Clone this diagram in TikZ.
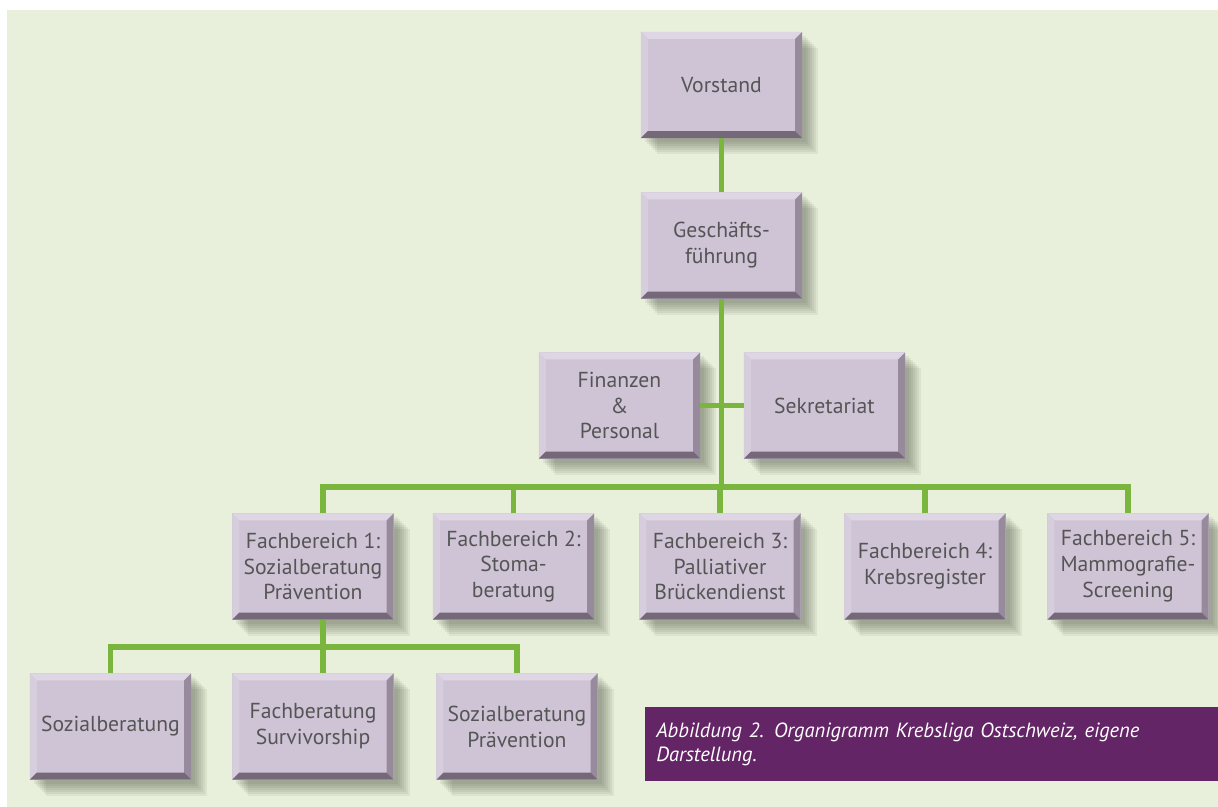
\documentclass[tikz,border=0pt]{standalone}
\usepackage{fontspec}
\setmainfont{PT Sans}
\usetikzlibrary{positioning,shadows}

\definecolor{bggreen}{HTML}{E8EFDB}
\definecolor{boxfill}{HTML}{CFC4D6}
\definecolor{bevtop}{HTML}{DED6E4}
\definecolor{bevleft}{HTML}{D7CEDD}
\definecolor{bevright}{HTML}{978A9C}
\definecolor{bevbottom}{HTML}{746879}
\definecolor{boxtext}{HTML}{555555}
\definecolor{linegreen}{HTML}{7AB63E}
\definecolor{captionpurple}{HTML}{642566}
\definecolor{shadowgray}{HTML}{3A4030}

\newcommand{\bevw}{0.17cm}

\begin{document}
\begin{tikzpicture}[x=0.025cm,y=-0.025cm,
		softshade/.style={general shadow={shadow xshift=#1,shadow yshift=-#1,fill=shadowgray,fill opacity=0.07}},
		orgbox/.style={rectangle,fill=boxfill,text=boxtext,align=center,
			minimum width=4.025cm,minimum height=2.65cm,inner sep=0pt,outer sep=0pt,
			font=\fontsize{15.4}{18.4}\selectfont,
			softshade=0.40cm,softshade=0.35cm,softshade=0.30cm,softshade=0.25cm,
			softshade=0.20cm,softshade=0.15cm,softshade=0.10cm,
			path picture={
				\fill[bevtop] (path picture bounding box.north west) -- (path picture bounding box.north east)
				-- ([shift={(-\bevw,-\bevw)}]path picture bounding box.north east)
				-- ([shift={(\bevw,-\bevw)}]path picture bounding box.north west) -- cycle;
				\fill[bevleft] (path picture bounding box.north west) -- ([shift={(\bevw,-\bevw)}]path picture bounding box.north west)
				-- ([shift={(\bevw,\bevw)}]path picture bounding box.south west)
				-- (path picture bounding box.south west) -- cycle;
				\fill[bevright] (path picture bounding box.north east) -- (path picture bounding box.south east)
				-- ([shift={(-\bevw,\bevw)}]path picture bounding box.south east)
				-- ([shift={(-\bevw,-\bevw)}]path picture bounding box.north east) -- cycle;
				\fill[bevbottom] (path picture bounding box.south west) -- (path picture bounding box.south east)
				-- ([shift={(-\bevw,\bevw)}]path picture bounding box.south east)
				-- ([shift={(\bevw,\bevw)}]path picture bounding box.south west) -- cycle;
			}},
		conn/.style={draw=linegreen,line width=3.6pt},
		captionbox/.style={rectangle,fill=captionpurple,text=white,align=left,anchor=north west,
			minimum width=14.325cm,minimum height=1.85cm,text width=13.775cm,
			inner xsep=0.275cm,inner ysep=0pt,font=\itshape\fontsize{14.6}{17}\selectfont}
	]
	
	% Background
	\useasboundingbox (0,0) rectangle (1218,807);
	\fill[white] (0,0) rectangle (1218,807);
	\fill[bggreen] (7,10) rectangle (1218,807);
	
	% Boxes
	\node[orgbox] (vorstand) at (721.5,85) {Vorstand};
	\node[orgbox] (gf) at (721.5,245.5) {Geschäfts-\\führung};
	\node[orgbox] (finanzen) at (619.5,405.5) {Finanzen\\\&\\Personal};
	\node[orgbox] (sekretariat) at (824.5,405.5) {Sekretariat};
	
	\node[orgbox] (fb1) at (313,566.5) {Fachbereich 1:\\Sozialberatung\\Prävention};
	\node[orgbox] (fb2) at (513.5,566.5) {Fachbereich 2:\\Stoma-\\beratung};
	\node[orgbox] (fb3) at (720,566.5) {Fachbereich 3:\\Palliativer\\Brückendienst};
	\node[orgbox] (fb4) at (925,566.5) {Fachbereich 4:\\Krebsregister};
	\node[orgbox] (fb5) at (1128,566.5) {Fachbereich 5:\\Mammografie-\\Screening};
	
	\node[orgbox] (sb) at (110.5,726.5) {Sozialberatung};
	\node[orgbox] (survivor) at (313,726.5) {Fachberatung\\Survivorship};
	\node[orgbox] (sbprev) at (517,726.5) {Sozialberatung\\Prävention};
	
	% Connectors
	\coordinate (bus) at (721,487);
	\coordinate (subbus) at (323,647);
	
	\draw[conn] (vorstand) -- (gf);
	\draw[conn] (gf.south) -- (gf.south |- bus);
	\draw[conn] (finanzen) -- (sekretariat);
	\draw[conn] ([xshift=0.25cm]fb1.north) |- (bus) -| (fb5.north);
	\foreach \n in {fb2,fb3,fb4}
	\draw[conn] (\n.north) -- (\n.north |- bus);
	
	\draw[conn] ([xshift=0.25cm]fb1.south) -- ([xshift=0.25cm]survivor.north);
	\draw[conn] (sb.north) |- (subbus) -| (sbprev.north);
	
	% Caption
	\node[captionbox] (caption) at (645,707) {Abbildung 2. Organigramm Krebsliga Ostschweiz, eigene\\Darstellung.};
	
\end{tikzpicture}
\end{document}
